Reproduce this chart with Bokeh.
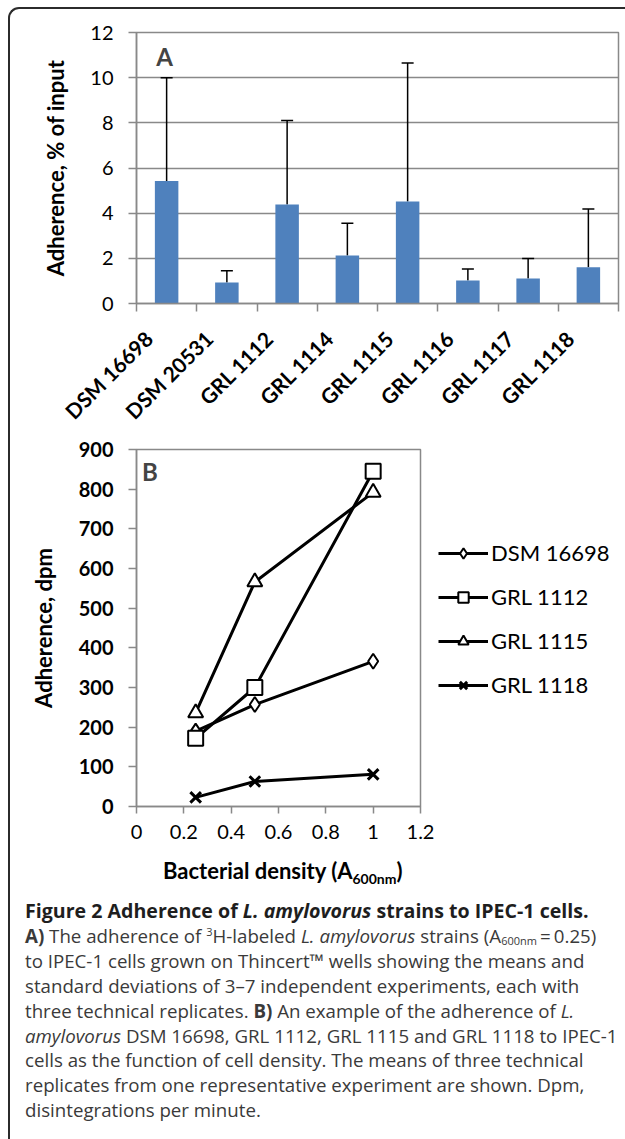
import numpy as np
from math import pi
from bokeh.plotting import figure
from bokeh.models import (Range1d, FixedTicker, Whisker, TeeHead, ColumnDataSource, Label,
                          Legend, LegendItem, Div, CustomJSTickFormatter)
from bokeh.layouts import column
from bokeh.embed import file_html
from bokeh.resources import INLINE

# ---------------- data ----------------
strains = ["DSM 16698", "DSM 20531", "GRL 1112", "GRL 1114",
           "GRL 1115", "GRL 1116", "GRL 1117", "GRL 1118"]
adherence_mean = [5.42, 0.93, 4.38, 2.12, 4.52, 1.02, 1.11, 1.60]
adherence_sd = [4.58, 0.52, 3.72, 1.43, 6.13, 0.51, 0.88, 2.58]
yticks_a = [0, 2, 4, 6, 8, 10, 12]

density = [0.25, 0.5, 1.0]
dpm_dsm16698 = [190, 257, 366]
dpm_grl1112 = [172, 300, 845]
dpm_grl1115 = [236, 566, 792]
dpm_grl1118 = [23, 63, 81]
series_b_names = ["DSM 16698", "GRL 1112", "GRL 1115", "GRL 1118"]
xticks_b = [0, 0.2, 0.4, 0.6, 0.8, 1.0, 1.2]
yticks_b = [0, 100, 200, 300, 400, 500, 600, 700, 800, 900]

FONT = "Lato"
GRAY = "#898989"
BLUE = "#4F81BD"

# ---------------- panel A ----------------
n = len(strains)
centers = [i + 0.5 for i in range(n)]
bounds = list(range(n + 1))
label_shift = 0.3  # rotated labels end just right of their category centre
label_pos = [c - label_shift for c in centers]

pa = figure(frame_width=482, frame_height=271, x_range=Range1d(0, n), y_range=Range1d(0, 12),
            output_backend="svg", toolbar_location=None,
            min_border_left=118, min_border_right=25, min_border_top=32, min_border_bottom=128)
pa.outline_line_color = GRAY
pa.outline_line_width = 1.5
pa.border_fill_alpha = 0

src_a = ColumnDataSource(dict(
    x=centers, top=adherence_mean,
    hi=[m + s for m, s in zip(adherence_mean, adherence_sd)]))
pa.vbar(x="x", top="top", width=0.39, source=src_a, fill_color=BLUE, line_color=None)
pa.add_layout(Whisker(base="x", lower="top", upper="hi", source=src_a,
                      line_color="black", line_width=1.5,
                      upper_head=TeeHead(size=12, line_color="black", line_width=1.5),
                      lower_head=None))

pa.xgrid.grid_line_color = None
pa.ygrid.ticker = FixedTicker(ticks=yticks_a)
pa.ygrid.grid_line_color = GRAY
pa.ygrid.grid_line_width = 1.5

ya = pa.yaxis[0]
ya.ticker = FixedTicker(ticks=yticks_a)
ya.axis_label = "Adherence, % of input"
ya.axis_label_text_font = FONT
ya.axis_label_text_font_style = "bold"
ya.axis_label_text_font_size = "22px"
ya.axis_label_text_color = "black"
ya.axis_label_standoff = 18
ya.major_label_text_font = FONT
ya.major_label_text_font_size = "20px"
ya.major_label_text_color = "black"
ya.axis_line_color = GRAY
ya.axis_line_width = 1.5
ya.major_tick_line_color = GRAY
ya.major_tick_line_width = 1.5
ya.major_tick_out = 8
ya.major_tick_in = 0
ya.minor_tick_line_color = None
ya.major_label_standoff = 15

xa = pa.xaxis[0]
xa.ticker = FixedTicker(ticks=label_pos, minor_ticks=bounds)
xa.formatter = CustomJSTickFormatter(args=dict(names=strains),
                                     code="return names[Math.floor(tick)]")
xa.major_label_orientation = pi / 4
xa.major_label_text_font = FONT
xa.major_label_text_font_style = "bold"
xa.major_label_text_font_size = "21px"
xa.major_label_text_color = "black"
xa.major_tick_out = 6
xa.major_label_standoff = 23
xa.axis_line_color = GRAY
xa.axis_line_width = 1.5
xa.major_tick_line_color = None
xa.minor_tick_line_color = GRAY
xa.minor_tick_line_width = 1.5
xa.minor_tick_out = 8
xa.minor_tick_in = 0

pa.add_layout(Label(x=0.465, y=10.94, text="A", text_font=FONT, text_font_style="bold",
                    text_font_size="24px", text_align="center", text_baseline="middle"))

# ---------------- panel B ----------------
pb = figure(frame_width=284, frame_height=357, x_range=Range1d(0, 1.2), y_range=Range1d(0, 900),
            output_backend="svg", toolbar_location=None,
            min_border_left=136, min_border_right=205, min_border_top=14, min_border_bottom=48)
pb.outline_line_color = GRAY
pb.outline_line_width = 1.5
pb.border_fill_alpha = 0
pb.grid.grid_line_color = None

markers = ["diamond", "square", "triangle", "x"]
sizes = [15, 15, 15, 15]
series = [dpm_dsm16698, dpm_grl1112, dpm_grl1115, dpm_grl1118]
items = []
for name, ys, mk, sz in zip(series_b_names, series, markers, sizes):
    s = ColumnDataSource(dict(x=density, y=ys))
    ln = pb.line("x", "y", source=s, line_color="black", line_width=3)
    sc = pb.scatter("x", "y", source=s, marker=mk, size=sz, fill_color="white",
                    line_color="black", line_width=3 if mk == "x" else 2)
    items.append(LegendItem(label=name, renderers=[ln, sc]))

leg = Legend(items=items, location=(18, 108), glyph_width=50, glyph_height=26, spacing=17,
             label_standoff=3, padding=0, margin=0, border_line_color=None,
             background_fill_alpha=0, label_text_font=FONT, label_text_font_size="22px",
             label_text_color="black", label_height=26)
pb.add_layout(leg, "right")

xb = pb.xaxis[0]
xb.ticker = FixedTicker(ticks=xticks_b)
xb.formatter = CustomJSTickFormatter(code="return String(+tick.toFixed(2))")
xb.major_label_text_font = FONT
xb.major_label_text_font_size = "20px"
xb.major_label_text_color = "black"
xb.major_label_standoff = 11
xb.axis_line_color = GRAY
xb.axis_line_width = 1.5
xb.major_tick_line_color = GRAY
xb.major_tick_line_width = 1.5
xb.major_tick_out = 7
xb.major_tick_in = 0
xb.minor_tick_line_color = None

yb = pb.yaxis[0]
yb.ticker = FixedTicker(ticks=yticks_b)
yb.axis_label = "Adherence, dpm"
yb.axis_label_text_font = FONT
yb.axis_label_text_font_style = "bold"
yb.axis_label_text_font_size = "22px"
yb.axis_label_text_color = "black"
yb.axis_label_standoff = 19
yb.major_label_text_font = FONT
yb.major_label_text_font_style = "bold"
yb.major_label_text_font_size = "20px"
yb.major_label_text_color = "black"
yb.major_label_standoff = 15
yb.axis_line_color = GRAY
yb.axis_line_width = 1.5
yb.major_tick_line_color = GRAY
yb.major_tick_line_width = 1.5
yb.major_tick_out = 8
yb.major_tick_in = 0
yb.minor_tick_line_color = None

pb.add_layout(Label(x=0.057, y=844, text="B", text_font=FONT, text_font_style="bold",
                    text_font_size="24px", text_align="center", text_baseline="middle"))

# x-axis title of panel B (with subscript) as real HTML text
xlabel_b = Div(
    text=("<div style=\"font-family:'Lato'; font-weight:bold; font-size:22px; color:black;"
          " white-space:nowrap; line-height:24px; padding:0 0 0 158px;\">"
          "Bacterial density (A<sub style=\"font-size:14px; line-height:0;\">600nm</sub>)</div>"),
    width=625, height=30)

# ---------------- caption ----------------
caption_html = """
<div style="position:fixed; left:8px; top:7px; width:700px; height:1300px;
            border-left:2px solid #2b2b2b; border-top:2px solid #2b2b2b;
            border-top-left-radius:11px; pointer-events:none;"></div>
<div style="font-family:'Open Sans'; font-size:18.7px; line-height:24.9px; color:#3a3a3a;
            white-space:nowrap; padding:0 0 0 20px;">
<b style="color:#1e1e1e; font-size:19.6px;">Figure 2 Adherence of <i>L. amylovorus</i> strains to IPEC-1 cells.</b><br>
<b>A)</b> The adherence of <sup style="font-size:11px; line-height:0;">3</sup>H-labeled <i>L. amylovorus</i> strains (A<span style="font-size:11px; line-height:0; vertical-align:-2px;">600nm</span>&#8201;=&#8201;0.25)<br>
to IPEC-1 cells grown on Thincert&#8482; wells showing the means and<br>
standard deviations of 3&#8211;7 independent experiments, each with<br>
three technical replicates. <b>B)</b> An example of the adherence of <i>L.</i><br>
<i>amylovorus</i> DSM 16698, GRL 1112, GRL 1115 and GRL 1118 to IPEC-1<br>
cells as the function of cell density. The means of three technical<br>
replicates from one representative experiment are shown. Dpm,<br>
disintegrations per minute.
</div>
"""
cap = Div(text=caption_html, width=625, height=243)

layout = column(pa, pb, xlabel_b, cap, spacing=0)

open("out.html", "w").write(file_html(layout, INLINE))
